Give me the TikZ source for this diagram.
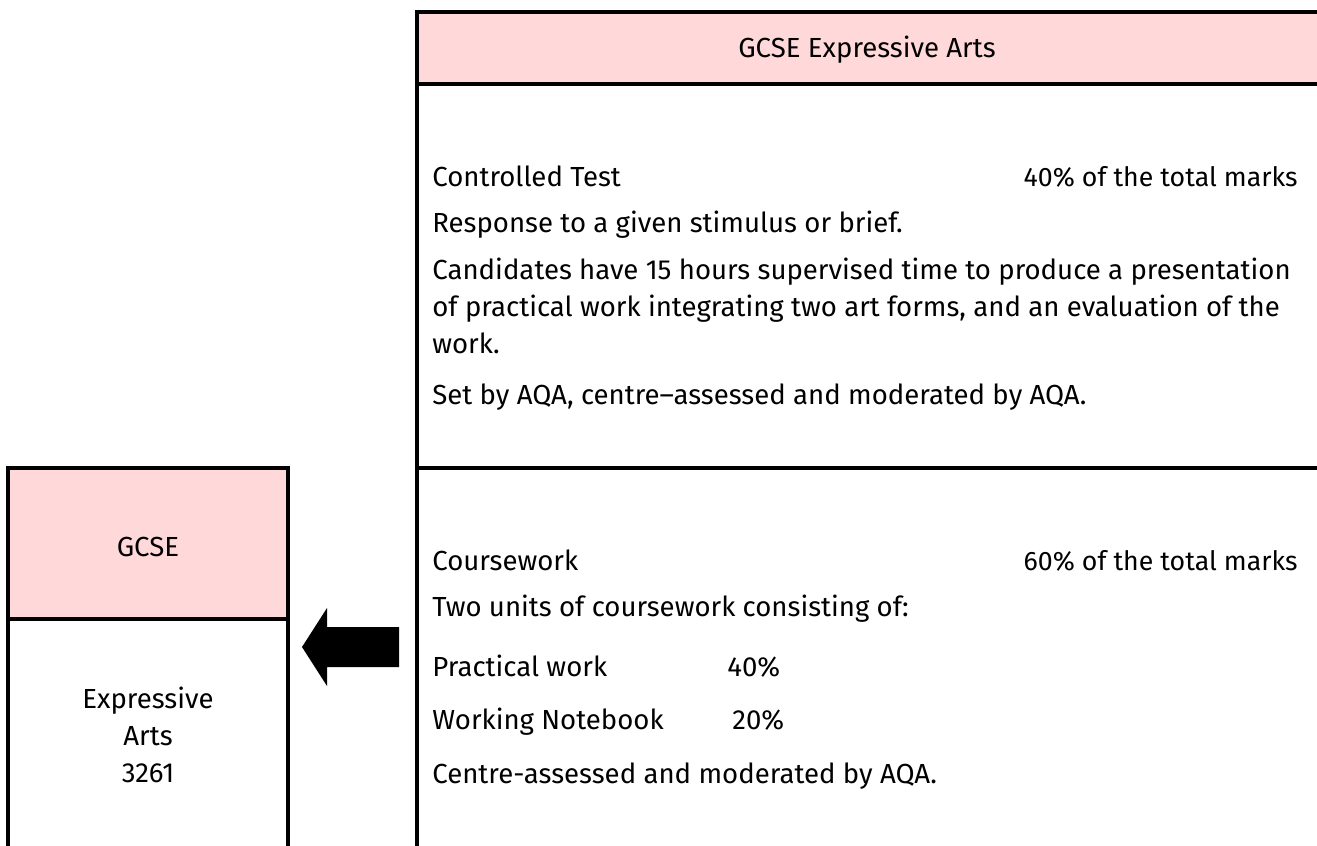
\documentclass[tikz,border=0pt]{standalone}
\usepackage{fontspec}
\setmainfont{Fira Sans}
\definecolor{headpink}{HTML}{FFD9D9}
\begin{document}
\begin{tikzpicture}[
    x=0.02cm, y=-0.02cm,
    frame/.style={draw=black, line width=0.075cm},
    header/.style={fill=headpink},
    txt/.style={anchor=base west, inner sep=0pt, font=\fontsize{15.7}{18}\selectfont},
    mid/.style={anchor=base, inner sep=0pt, font=\fontsize{15.7}{18}\selectfont},
    marks/.style={anchor=base east, inner sep=0pt, font=\fontsize{15.2}{18}\selectfont}
]
\useasboundingbox (0,0) rectangle (1317,845);

% Right panel
\fill[header] (417,12) rectangle (1320,84);
\draw[frame] (417,850) -- (417,12) -- (1320,12);
\draw[frame] (417,84) -- (1320,84);
\draw[frame] (417,468) -- (1320,468);

% Left panel
\fill[header] (8,468) rectangle (288,619);
\draw[frame] (8,850) -- (8,468) -- (288,468) -- (288,850);
\draw[frame] (8,619) -- (288,619);

% Arrow
\fill[black] (302,647) -- (327,608) -- (327,627) -- (399,627) -- (399,667)
    -- (327,667) -- (327,686) -- cycle;

% Headers
\node[mid] (title) at (867,57) {GCSE Expressive Arts};
\node[mid] (gcse) at (148,556) {GCSE};

% Left box
\node[mid] (expr) at (148,708) {Expressive};
\node[mid] (arts) at (148,745) {Arts};
\node[mid] (code) at (148,782) {3261};

% Controlled test
\node[txt] (test) at (432,186) {Controlled Test};
\node[marks] (testpc) at (1298,186) {40\% of the total marks};
\node[txt] (resp) at (432,232) {Response to a given stimulus or brief.};
\node[txt] (cand1) at (432,279) {Candidates have 15 hours supervised time to produce a presentation};
\node[txt] (cand2) at (432,316) {of practical work integrating two art forms, and an evaluation of the};
\node[txt] (cand3) at (432,353) {work.};
\node[txt] (setby) at (432,404) {Set by AQA, centre–assessed and moderated by AQA.};

% Coursework
\node[txt] (cw) at (432,570) {Coursework};
\node[marks] (cwpc) at (1298,570) {60\% of the total marks};
\node[txt] (units) at (432,616) {Two units of coursework consisting of:};
\node[txt] (prac) at (432,676) {Practical work};
\node[txt] (pracpc) at (727,676) {40\%};
\node[txt] (note) at (432,729) {Working Notebook};
\node[txt] (notepc) at (732,729) {20\%};
\node[txt] (centre) at (432,783) {Centre-assessed and moderated by AQA.};

\end{tikzpicture}
\end{document}
